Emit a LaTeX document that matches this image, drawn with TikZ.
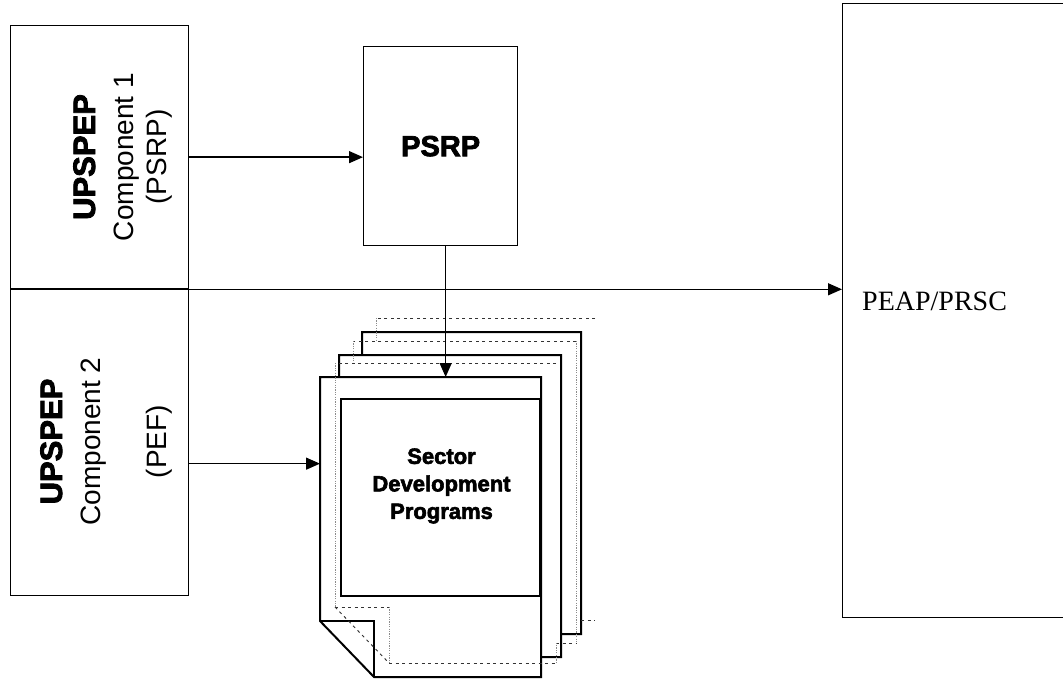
\documentclass[tikz,border=0pt]{standalone}
\usepackage{fontspec}
\setmainfont{Liberation Sans}
\newfontfamily\heavyfont{Liberation Sans}[BoldFeatures={FakeBold=2.6}]
\newfontfamily\timesface{Liberation Serif}
\usetikzlibrary{arrows.meta}

\tikzset{
  box/.style={draw, line width=1.3pt, inner sep=0pt, anchor=north west},
  conn/.style={line width=1.3pt, -{Triangle[length=14pt,width=12pt]}},
  sheet/.style={draw, line width=2pt, fill=white, line join=miter},
  sheetline/.style={line width=2pt, line join=miter},
  ghost/.style={draw=black!80, line width=0.9pt, dash pattern=on 3pt off 3.5pt},
  ghostside/.style={draw=black!45, line width=0.8pt, dash pattern=on 1.2pt off 1.2pt},
  rot/.style={rotate=90, anchor=base, inner sep=0pt},
  heavylabel/.style={font=\heavyfont\bfseries\fontsize{31}{36}\selectfont},
  plainlabel/.style={font=\fontsize{28}{32}\selectfont},
}

\begin{document}
\begin{tikzpicture}[x=1pt, y=-1pt]
\clip (0,0) rectangle (1063,679);
\fill[white] (0,0) rectangle (1063,679);

% the two UPSPEP components
\node[box, minimum width=178pt, minimum height=263pt] (comp1) at (10,25) {};
\node[box, minimum width=178pt, minimum height=307pt] (comp2) at (10,288) {};

\node[rot, heavylabel] (u1) at (95,157) {UPSPEP};
\node[rot, plainlabel] (c1) at (133,157) {Component 1};
\node[rot, plainlabel] (p1) at (166,157) {(PSRP)};

\node[rot, heavylabel] (u2) at (62,441.5) {UPSPEP};
\node[rot, plainlabel] (c2) at (100,441.5) {Component 2};
\node[rot, plainlabel] (p2) at (166,441.5) {(PEF)};

% PSRP
\node[box, minimum width=154pt, minimum height=199pt] (psrp) at (363,46) {};
\node[font=\heavyfont\bfseries\fontsize{29}{34}\selectfont, inner sep=0pt] (psrptext) at (psrp.center) {PSRP};

% PEAP/PRSC
\node[box, minimum width=240pt, minimum height=614pt] (peap) at (842,3) {};
\node[anchor=base west, inner sep=0pt, font=\timesface\fontsize{28}{32}\selectfont] (peaptext) at (862,310) {PEAP/PRSC};

% stack of program sheets, back to front
\path[sheet] (362,332) -- (581,332) -- (581,634) -- (416,634) -- (362,578) -- cycle;
\path[sheet] (339,355) -- (561,355) -- (561,657) -- (393,657) -- (339,601) -- cycle;

% dotted outlines behind the rear sheets
\draw[ghost] (595,318) -- (376,318);
\draw[ghostside] (376,318) -- (376,341);
\draw[ghost] (581,620) -- (595,620);
\draw[ghost] (576,341) -- (353,341);
\draw[ghostside] (353,341) -- (353,363);
\draw[ghostside] (576,341) -- (576,643);
\draw[ghost] (556,643) -- (576,643);

% front sheet with folded corner
\node[inner sep=0pt, outer sep=0pt, minimum width=221pt, minimum height=300pt, anchor=north west] (doc) at (320,377) {};
\path[sheet] (doc.north west) -- (doc.north east) -- (doc.south east)
  -- ([xshift=54pt]doc.south west) -- ([yshift=56pt]doc.south west) -- cycle;
\draw[sheetline] ([yshift=56pt]doc.south west) -- ([xshift=54pt,yshift=56pt]doc.south west)
  -- ([xshift=54pt]doc.south west);
\node[draw, line width=1.6pt, inner sep=0pt, minimum width=199pt, minimum height=197pt,
      anchor=north east] (sdpbox) at ([yshift=-21pt]doc.north east) {};
\node[font=\heavyfont\bfseries\fontsize{22}{27.5}\selectfont, align=center, inner sep=0pt]
  (sdp) at (441.5,486) {Sector\\Development\\Programs};

% dotted outline of the sheet just behind the front one
\draw[ghost] (556,363) -- (335,363);
\draw[ghostside] (335,363) -- (335,607);
\draw[ghost] (335,607) -- (389,607);
\draw[ghostside] (389,607) -- (389,663);
\draw[ghost] (335,607) -- (389,663);
\draw[ghost] (389,663) -- (556,663);
\draw[ghostside] (556,663) -- (556,643);

% connectors
\draw[conn] (comp1.east) -- (comp1.east -| psrp.west);
\draw[conn] (comp1.south west) -- (comp1.south west -| peap.west);
\draw[conn] ([xshift=5pt]psrp.south) -- ([xshift=5pt]psrp.south |- doc.north);
\draw[conn] ([yshift=-21.5pt]comp2.east) -- ([yshift=-21.5pt]comp2.east -| doc.west);
\end{tikzpicture}
\end{document}
